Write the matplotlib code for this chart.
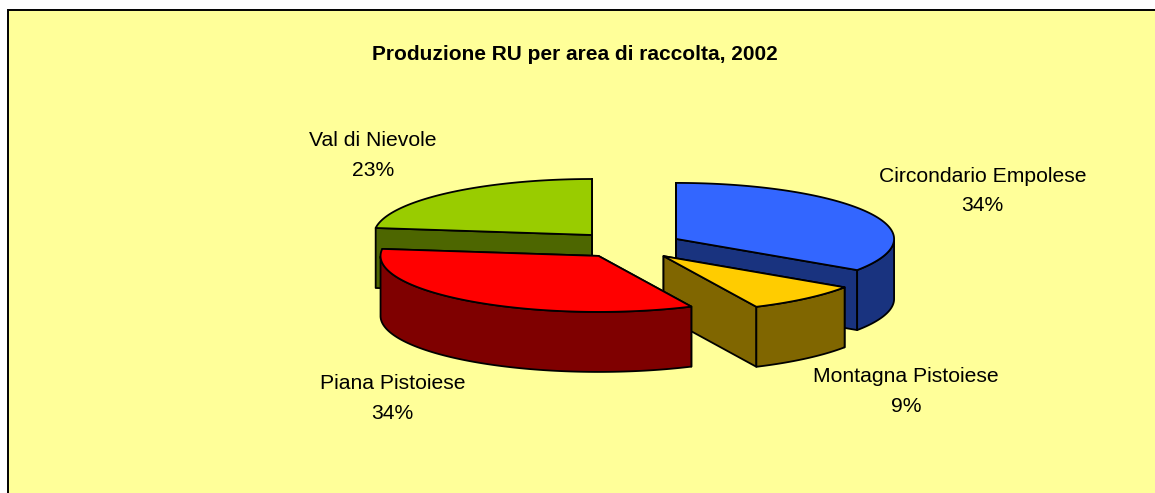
import numpy as np
import matplotlib
matplotlib.use("Agg")
import matplotlib.pyplot as plt
from matplotlib.patches import Polygon, Rectangle

plt.rcParams['font.family'] = ['Liberation Sans', 'DejaVu Sans']

categories = ["Circondario Empolese", "Montagna Pistoiese", "Piana Pistoiese", "Val di Nievole"]
shares = [34.4, 8.6, 34.0, 23.0]
top_colors = ["#3366FF", "#FFCC00", "#FF0000", "#99CC00"]
side_colors = ["#19337F", "#806600", "#7F0000", "#4D6600"]
explode = [0.25, 0.25, 0.23, 0.25]
title = "Produzione RU per area di raccolta, 2002"
label_xy = [(982.5, 191), (906, 391.5), (392.5, 398.5), (373, 155.5)]

W, H = 1155, 493
CX, CY = 628, 245.5
RX, RY = 218, 56
DEPTH = 60
LW = 1.3

fig = plt.figure(figsize=(W / 100, H / 100), dpi=100, facecolor="white")
ax = fig.add_axes([0, 0, 1, 1])
ax.set_xlim(0, W)
ax.set_ylim(H, 0)
ax.axis("off")

ax.add_patch(Rectangle((8.3, 10.3), W + 20, H + 20, fc="#FFFF99", ec="#000000", lw=1.4, zorder=0))


def rim(theta):
    return np.sin(theta) * RX, -np.cos(theta) * RY


def draw_wedge(a0, a1, e, top, side, z):
    mid = (a0 + a1) / 2
    ox, oy = rim(mid)
    ax0, ay0 = CX + e * ox, CY + e * oy
    t = np.linspace(a0, a1, 160)
    rx, ry = rim(t)
    xs, ys = ax0 + rx, ay0 + ry
    kw = dict(ec="black", lw=LW, joinstyle="round", zorder=z)
    # cut faces
    for i in (0, -1):
        face = [(ax0, ay0), (xs[i], ys[i]), (xs[i], ys[i] + DEPTH), (ax0, ay0 + DEPTH)]
        ax.add_patch(Polygon(face, closed=True, fc=side, **kw))
    # outer wall, front half of the rim only
    mask = (t >= np.pi / 2) & (t <= 3 * np.pi / 2)
    if mask.any():
        wx, wy = xs[mask], ys[mask]
        wall = np.r_[np.c_[wx, wy], np.c_[wx[::-1], wy[::-1] + DEPTH]]
        ax.add_patch(Polygon(wall, closed=True, fc=side, **kw))
    # top face
    ax.add_patch(Polygon(np.r_[[(ax0, ay0)], np.c_[xs, ys]], closed=True, fc=top, **kw))


fr = np.cumsum([0] + shares) / sum(shares) * 2 * np.pi
for z, i in enumerate([3, 0, 1, 2]):
    draw_wedge(fr[i], fr[i + 1], explode[i], top_colors[i], side_colors[i], 2 + z)

for name, val, (x, y) in zip(categories, shares, label_xy):
    ax.text(x, y, f"{name}\n{round(val)}%", ha="center", va="center", fontsize=15.2, color="black",
            linespacing=1.7, zorder=10)

ax.text(575, 54.5, title, ha="center", va="center", fontsize=15, fontweight="bold", color="black", zorder=10)

fig.savefig("out.png", dpi=100, facecolor="white")
